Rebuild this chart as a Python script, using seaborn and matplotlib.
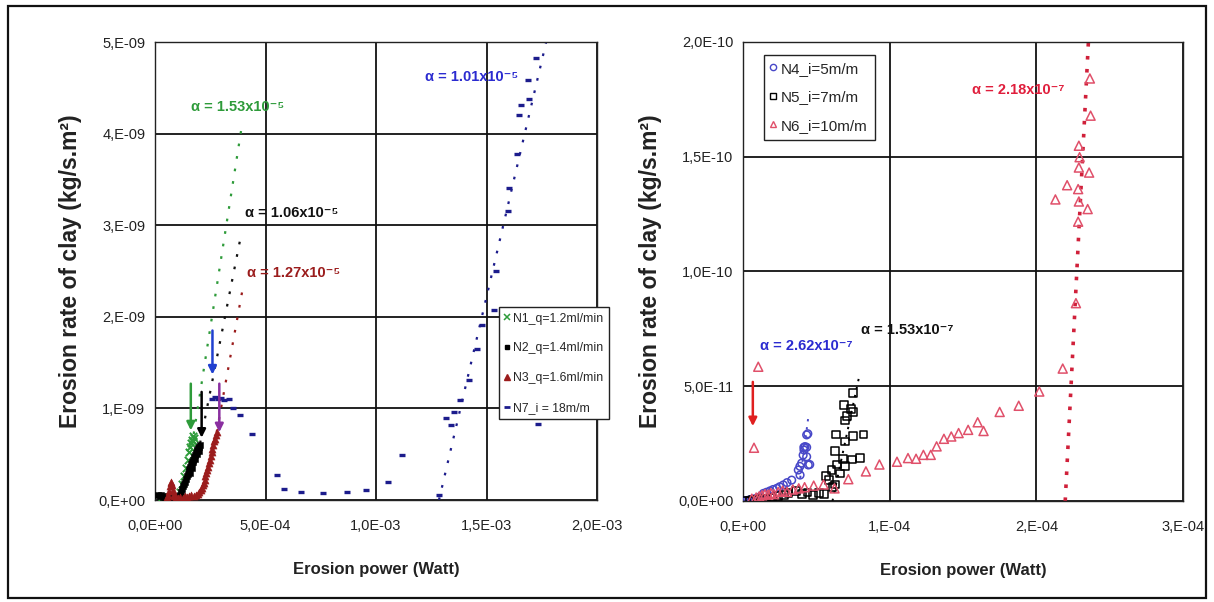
import numpy as np
import matplotlib
matplotlib.use("Agg")
import matplotlib.pyplot as plt
from matplotlib.lines import Line2D
from matplotlib.patches import Rectangle
from matplotlib.ticker import FixedLocator, MultipleLocator
import seaborn as sns

# ---------------- left panel : N1, N2, N3 (flow rate) and N7 (gradient) ----------------
# erosion power in units of 1e-4 W, erosion rate in units of 1e-9 kg/s.m2
n1_power = [0.30, 0.42, 0.55, 0.68, 0.80, 0.92, 1.02, 1.12, 1.22, 1.31, 1.40, 1.48, 1.55,
            1.60, 1.64, 1.68, 1.71, 1.74, 1.77]
n1_rate = [0.03, 0.02, 0.01, 0.00, 0.01, 0.02, 0.04, 0.09, 0.17, 0.26, 0.35, 0.44, 0.52,
           0.58, 0.62, 0.66, 0.70, 0.64, 0.68]

n2_power = [0.15, 0.22, 0.28, 0.34, 0.40, 0.47, 0.53, 0.60, 0.68, 0.76, 0.84, 0.92, 1.00,
            1.06, 1.12, 1.17, 1.22, 1.27, 1.31, 1.35, 1.40, 1.44, 1.48, 1.52, 1.56, 1.60,
            1.64, 1.68, 1.72, 1.76, 1.80, 1.84, 1.88, 1.92, 1.96, 2.00, 2.04, 1.58, 1.66,
            1.74, 1.82, 1.90, 1.98]
n2_rate = [0.05, 0.04, 0.05, 0.03, 0.04, 0.02, 0.03, 0.02, 0.01, 0.02, 0.01, 0.02, 0.03,
           0.04, 0.06, 0.09, 0.12, 0.15, 0.18, 0.20, 0.23, 0.26, 0.28, 0.31, 0.34, 0.36,
           0.39, 0.42, 0.44, 0.47, 0.49, 0.51, 0.54, 0.55, 0.57, 0.58, 0.60, 0.30, 0.35,
           0.41, 0.45, 0.50, 0.53]

n3_power = [0.55, 0.60, 0.64, 0.68, 0.71, 0.74, 0.77, 0.80, 0.84, 0.88, 0.95, 1.05, 1.15,
            1.25, 1.35, 1.45, 1.55, 1.65, 1.75, 1.85, 1.93, 2.00, 2.06, 2.11, 2.16, 2.20,
            2.24, 2.28, 2.32, 2.36, 2.40, 2.44, 2.48, 2.52, 2.56, 2.60, 2.64, 2.68, 2.72,
            2.76, 2.79]
n3_rate = [0.03, 0.06, 0.10, 0.15, 0.19, 0.20, 0.16, 0.11, 0.07, 0.04, 0.03, 0.02, 0.03,
           0.02, 0.04, 0.03, 0.04, 0.05, 0.04, 0.06, 0.07, 0.09, 0.11, 0.13, 0.16, 0.19,
           0.22, 0.26, 0.29, 0.33, 0.36, 0.40, 0.44, 0.48, 0.52, 0.56, 0.60, 0.64, 0.67,
           0.71, 0.74]

# N7: power in units of 1e-3 W, rate in units of 1e-9
n7_power = [0.258, 0.272, 0.285, 0.300, 0.312, 0.335, 0.353, 0.385, 0.439, 0.552, 0.584,
            0.661, 0.760, 0.869, 0.955, 1.054, 1.118, 1.285, 1.316, 1.340, 1.351, 1.382,
            1.423, 1.455, 1.481, 1.532, 1.545, 1.597, 1.602, 1.636, 1.645, 1.654, 1.688,
            1.692, 1.726, 1.733]
n7_rate = [1.10, 1.12, 1.10, 1.11, 1.09, 1.10, 1.00, 0.93, 0.72, 0.27, 0.12, 0.09, 0.08,
           0.09, 0.11, 0.20, 0.49, 0.05, 0.89, 0.82, 0.96, 1.09, 1.31, 1.65, 1.91, 2.07,
           2.50, 3.16, 3.41, 3.78, 4.20, 4.31, 4.59, 4.38, 4.83, 0.83]

# linear fits (end points, W and kg/s.m2) and their coefficients
n1_fit_power, n1_fit_rate = [1.75e-4, 3.92e-4], [0.72e-9, 4.07e-9]
n2_fit_power, n2_fit_rate = [2.04e-4, 3.90e-4], [0.62e-9, 2.90e-9]
n3_fit_power, n3_fit_rate = [2.79e-4, 3.97e-4], [0.74e-9, 2.31e-9]
n7_fit_power, n7_fit_rate = [1.285e-3, 1.770e-3], [0.0, 5.0e-9]
left_alpha = ["1.53", "1.06", "1.27", "1.01"]
left_alpha_exp = ["⁻⁵", "⁻⁵", "⁻⁵", "⁻⁵"]
left_alpha_pos = [(3.76e-4, 4.29e-9), (6.20e-4, 3.13e-9), (6.29e-4, 2.48e-9), (1.434e-3, 4.62e-9)]

# critical-power arrows (x, y_start, y_end)
left_arrow_x = [1.62e-4, 2.11e-4, 2.60e-4, 2.91e-4]
left_arrow_y0 = [1.27e-9, 1.18e-9, 1.85e-9, 1.27e-9]
left_arrow_y1 = [0.76e-9, 0.68e-9, 1.37e-9, 0.74e-9]

left_labels = ["N1_q=1.2ml/min", "N2_q=1.4ml/min", "N3_q=1.6ml/min", "N7_i = 18m/m"]
left_xticks = [0.0, 5e-4, 1e-3, 1.5e-3, 2e-3]
left_xticklabels = ["0,0E+00", "5,0E-04", "1,0E-03", "1,5E-03", "2,0E-03"]
left_yticks = [0.0, 1e-9, 2e-9, 3e-9, 4e-9, 5e-9]
left_yticklabels = ["0,E+00", "1,E-09", "2,E-09", "3,E-09", "4,E-09", "5,E-09"]

# ---------------- right panel : N4, N5, N6 (gradient) ----------------
# power in units of 1e-5 W, rate in units of 1e-11 kg/s.m2
n4_power = [0.10, 0.25, 0.40, 0.55, 0.70, 0.85, 1.00, 1.15, 1.39, 1.60, 1.84, 2.05, 2.30,
            2.50, 2.75, 3.00, 3.32, 3.77, 3.89, 3.88, 4.00, 4.10, 4.16, 4.23, 4.34, 4.45,
            4.55, 4.34, 4.34, 4.42, 4.15]
n4_rate = [0.00, 0.02, 0.04, 0.06, 0.08, 0.10, 0.13, 0.18, 0.33, 0.38, 0.44, 0.50, 0.55,
           0.62, 0.70, 0.80, 0.91, 1.35, 1.13, 1.51, 1.65, 2.00, 2.22, 2.37, 2.34, 1.57,
           1.59, 1.93, 2.88, 2.93, 2.34]

n5_power = [0.20, 0.45, 0.70, 0.95, 1.25, 1.60, 2.00, 2.40, 2.80, 3.10, 3.60, 4.00, 4.40,
            4.80, 5.20, 5.50, 5.63, 5.89, 6.03, 6.10, 6.30, 6.43, 6.60, 6.30, 6.35, 6.83,
            6.97, 6.97, 6.89, 6.97, 7.10, 7.37, 7.50, 7.50, 7.50, 7.42, 7.98, 8.22]
n5_rate = [0.00, 0.02, 0.05, 0.06, 0.09, 0.11, 0.15, 0.20, 0.25, 0.33, 0.42, 0.30, 0.37,
           0.28, 0.33, 0.30, 1.09, 0.92, 1.34, 0.60, 0.72, 1.59, 1.20, 2.18, 2.90, 1.84,
           1.51, 2.59, 4.18, 3.51, 3.70, 4.02, 3.88, 4.69, 2.85, 1.81, 1.89, 2.90]

n6_power = [0.60, 0.90, 1.10, 1.30, 1.50, 1.70, 1.90, 2.10, 2.40, 2.70, 3.00, 3.40, 3.80,
            4.20, 4.82, 5.49, 6.24, 1.04, 0.75, 7.18, 8.38, 9.30, 10.50, 11.25, 11.80,
            12.30, 12.80, 13.20, 13.70, 14.20, 14.70, 15.35, 16.00, 16.40, 17.50, 18.80,
            20.20, 21.80, 22.70, 21.30, 22.10, 22.85, 22.90, 22.85, 23.50, 23.60, 22.90,
            22.95, 22.90, 23.70, 23.65]
n6_rate = [0.10, 0.15, 0.20, 0.25, 0.30, 0.28, 0.35, 0.30, 0.40, 0.45, 0.40, 0.50, 0.55,
           0.60, 0.67, 0.72, 0.55, 5.85, 2.32, 0.95, 1.29, 1.59, 1.71, 1.87, 1.84, 2.01,
           2.01, 2.38, 2.71, 2.81, 2.96, 3.10, 3.43, 3.05, 3.88, 4.15, 4.77, 5.77, 8.62,
           13.14, 13.76, 12.17, 13.05, 13.59, 12.72, 14.31, 14.53, 14.98, 15.48, 16.79,
           18.41]

n4_fit_power, n4_fit_rate = [3.90e-5, 4.47e-5], [1.0e-11, 3.73e-11]
n5_fit_power, n5_fit_rate = [6.10e-5, 7.90e-5], [0.0, 5.36e-11]
n6_fit_power, n6_fit_rate = [2.197e-4, 2.355e-4], [0.0, 2.0e-10]
right_alpha = ["2.62", "1.53", "2.18"]
right_alpha_exp = ["⁻⁷", "⁻⁷", "⁻⁷"]
right_alpha_pos = [(4.30e-5, 6.75e-11), (1.12e-4, 7.45e-11), (1.875e-4, 1.79e-10)]
right_arrow = (0.67e-5, 5.19e-11, 3.26e-11)

right_labels = ["N4_i=5m/m", "N5_i=7m/m", "N6_i=10m/m"]
right_xticks = [0.0, 1e-4, 2e-4, 3e-4]
right_xticklabels = ["0,E+00", "1,E-04", "2,E-04", "3,E-04"]
right_yticks = [0.0, 5e-11, 1e-10, 1.5e-10, 2e-10]
right_yticklabels = ["0,0E+00", "5,0E-11", "1,0E-10", "1,5E-10", "2,0E-10"]

# ---------------- style ----------------
sns.set_style("white")
FONT = ["Liberation Sans", "DejaVu Sans"]
plt.rcParams["font.family"] = FONT

GREEN, DARKRED, NAVY, PURPLE = "#2e9b3a", "#9b1c1c", "#1c1c8c", "#8a2fa0"
BLUE_TXT, BLUE_ARROW = "#2b2bd0", "#2040d0"
C_N4, C_N6, RED_TXT = "#4848c8", "#e0506a", "#e01e3c"

fig = plt.figure(figsize=(12.14, 6.02), dpi=100)
ax1 = fig.add_axes([155 / 1214, 1 - 500 / 602, 442 / 1214, 458 / 602])
ax2 = fig.add_axes([743 / 1214, 1 - 501 / 602, 440 / 1214, 459 / 602])

fig.add_artist(Rectangle((8 / 1214, 4 / 602), 1198 / 1214, 592 / 602,
                         transform=fig.transFigure, fill=False, lw=1.6, ec="#111111"))


def style_axes(ax, xt, xtl, yt, ytl, xminor, yminor, xlim, ylim):
    ax.set_xlim(*xlim)
    ax.set_ylim(*ylim)
    ax.xaxis.set_major_locator(FixedLocator(xt))
    ax.yaxis.set_major_locator(FixedLocator(yt))
    ax.set_xticklabels(xtl)
    ax.set_yticklabels(ytl)
    ax.xaxis.set_minor_locator(MultipleLocator(xminor))
    ax.yaxis.set_minor_locator(MultipleLocator(yminor))
    ax.grid(True, which="major", color="#111111", lw=1.3)
    ax.set_axisbelow(True)
    for s in ax.spines.values():
        s.set_color("#222222")
        s.set_linewidth(1.0)
    ax.tick_params(axis="x", which="major", direction="inout", length=9, width=1,
                   pad=9, labelsize=10.5, colors="#222222")
    ax.tick_params(axis="x", which="minor", direction="inout", length=7, width=1)
    ax.tick_params(axis="y", which="major", direction="out", length=5, width=1,
                   pad=2, labelsize=10.5, colors="#222222")
    ax.tick_params(axis="y", which="minor", direction="out", length=4, width=1)
    ax.set_xlabel("Erosion power (Watt)", fontsize=12, fontweight="bold",
                  color="#222222")
    ax.set_ylabel("Erosion rate of clay (kg/s.m²)", fontsize=16.5, fontweight="bold",
                  color="#222222")
    ax.xaxis.set_label_coords(0.5, -0.135)


style_axes(ax1, left_xticks, left_xticklabels, left_yticks, left_yticklabels,
           1e-4, 2e-10, (0, 2e-3), (0, 5e-9))
style_axes(ax2, right_xticks, right_xticklabels, right_yticks, right_yticklabels,
           1e-5, 1e-11, (0, 3e-4), (0, 2e-10))
ax1.yaxis.set_label_coords(-0.165, 0.5)
ax2.yaxis.set_label_coords(-0.184, 0.5)

# ---- left panel marks ----
sns.scatterplot(x=np.array(n1_power) * 1e-4, y=np.array(n1_rate) * 1e-9, ax=ax1,
                marker="x", color=GREEN, s=28, linewidth=1.4, zorder=3)
sns.scatterplot(x=np.array(n2_power) * 1e-4, y=np.array(n2_rate) * 1e-9, ax=ax1,
                marker="s", color="black", edgecolor="black", s=22, zorder=3)
sns.scatterplot(x=np.array(n3_power) * 1e-4, y=np.array(n3_rate) * 1e-9, ax=ax1,
                marker="^", color=DARKRED, edgecolor=DARKRED, s=26, zorder=3)
sns.scatterplot(x=np.array(n7_power) * 1e-3, y=np.array(n7_rate) * 1e-9, ax=ax1,
                marker="_", color=NAVY, s=24, linewidth=2.4, zorder=3)

dot = (0, (1.2, 4.5))
for fx, fy, c in [(n1_fit_power, n1_fit_rate, GREEN), (n2_fit_power, n2_fit_rate, "#111111"),
                  (n3_fit_power, n3_fit_rate, DARKRED), (n7_fit_power, n7_fit_rate, NAVY)]:
    sns.lineplot(x=fx, y=fy, ax=ax1, color=c, lw=1.6, linestyle=dot, sort=False,
                 estimator=None, zorder=2)

for xa, y0, y1, c in zip(left_arrow_x, left_arrow_y0, left_arrow_y1,
                         [GREEN, "black", BLUE_ARROW, PURPLE]):
    ax1.annotate("", xy=(xa, y1), xytext=(xa, y0),
                 arrowprops=dict(arrowstyle="-|>", color=c, lw=1.8,
                                 mutation_scale=12, shrinkA=0, shrinkB=0), zorder=4)

for (px, py), a, e, c in zip(left_alpha_pos, left_alpha, left_alpha_exp,
                             [GREEN, "#111111", DARKRED, BLUE_TXT]):
    ax1.text(px, py, f"α = {a}x10{e}", color=c, fontsize=10.5, fontweight="bold",
             ha="center", va="center", zorder=5)

left_handles = [
    Line2D([], [], ls="", marker="x", color=GREEN, ms=4.5, mew=1.1),
    Line2D([], [], ls="", marker="s", color="black", ms=3.5),
    Line2D([], [], ls="", marker="^", color=DARKRED, ms=4.5),
    Line2D([], [], ls="", marker="_", color=NAVY, ms=5, mew=2),
]
leg1 = ax1.legend(left_handles, left_labels, loc="upper left",
                  bbox_to_anchor=(0.778, 0.421), borderaxespad=0, fontsize=8.8,
                  frameon=True, fancybox=False, framealpha=1, edgecolor="#222222",
                  handlelength=0.35, handletextpad=0.35, labelspacing=1.45,
                  borderpad=0.45)
leg1.get_frame().set_linewidth(1.0)
leg1.set_zorder(6)

# ---- right panel marks ----
sns.scatterplot(x=np.array(n4_power) * 1e-5, y=np.array(n4_rate) * 1e-11, ax=ax2,
                marker="o", facecolor="none", edgecolor=C_N4, color=C_N4, s=30,
                linewidth=1.1, zorder=3)
sns.scatterplot(x=np.array(n5_power) * 1e-5, y=np.array(n5_rate) * 1e-11, ax=ax2,
                marker="s", facecolor="none", edgecolor="black", color="black", s=32,
                linewidth=1.1, zorder=3)
sns.scatterplot(x=np.array(n6_power) * 1e-5, y=np.array(n6_rate) * 1e-11, ax=ax2,
                marker="^", facecolor="none", edgecolor=C_N6, color=C_N6, s=42,
                linewidth=1.1, zorder=3)

sns.lineplot(x=n4_fit_power, y=n4_fit_rate, ax=ax2, color=C_N4, lw=1.4,
             linestyle=(0, (1.2, 3)), sort=False, estimator=None, zorder=2)
sns.lineplot(x=n5_fit_power, y=n5_fit_rate, ax=ax2, color="black", lw=1.4,
             linestyle=(0, (1.2, 3)), sort=False, estimator=None, zorder=2)
sns.lineplot(x=n6_fit_power, y=n6_fit_rate, ax=ax2, color="#d0203a", lw=2.6,
             linestyle=(0, (1, 2.6)), sort=False, estimator=None, zorder=2)

ax2.annotate("", xy=(right_arrow[0], right_arrow[2]), xytext=(right_arrow[0], right_arrow[1]),
             arrowprops=dict(arrowstyle="-|>", color="#e02020", lw=1.8,
                             mutation_scale=12, shrinkA=0, shrinkB=0), zorder=4)

for (px, py), a, e, c in zip(right_alpha_pos, right_alpha, right_alpha_exp,
                             [BLUE_TXT, "#111111", RED_TXT]):
    ax2.text(px, py, f"α = {a}x10{e}", color=c, fontsize=10.5, fontweight="bold",
             ha="center", va="center", zorder=5)

right_handles = [
    Line2D([], [], ls="", marker="o", mfc="none", mec=C_N4, ms=4.5, mew=1),
    Line2D([], [], ls="", marker="s", mfc="none", mec="black", ms=4.5, mew=1),
    Line2D([], [], ls="", marker="^", mfc="none", mec=C_N6, ms=5, mew=1),
]
leg2 = ax2.legend(right_handles, right_labels, loc="upper left",
                  bbox_to_anchor=(0.048, 0.972), borderaxespad=0, fontsize=11,
                  frameon=True, fancybox=False, framealpha=1, edgecolor="#222222",
                  handlelength=0.3, handletextpad=0.35, labelspacing=0.95,
                  borderpad=0.45)
leg2.get_frame().set_linewidth(1.0)

fig.savefig("out.png", dpi=100)
